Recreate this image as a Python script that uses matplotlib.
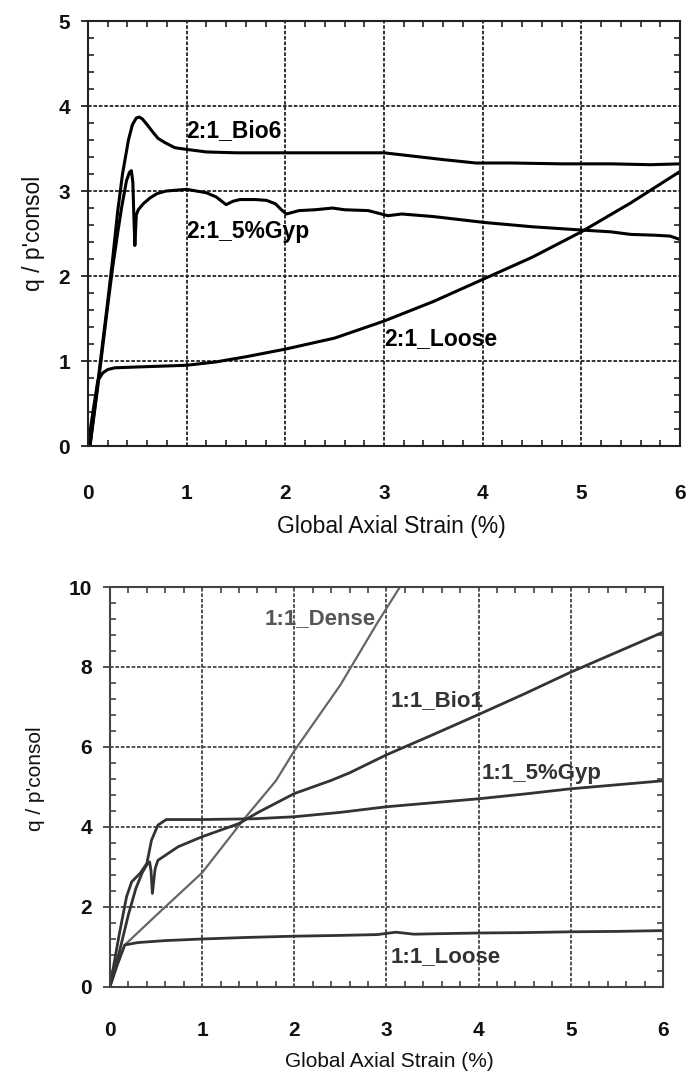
import numpy as np
import matplotlib.pyplot as plt
from matplotlib.ticker import MultipleLocator

plt.rcParams['font.family'] = ['Liberation Sans', 'DejaVu Sans']

# ---- 2:1 mixes (upper panel) ----
bio6_x = [0, 0.02, 0.1, 0.2, 0.25, 0.3, 0.35, 0.41, 0.45, 0.49, 0.52, 0.55, 0.6, 0.66, 0.71, 0.78, 0.88,
          1.0, 1.2, 1.5, 2.0, 2.5, 3.0, 3.3, 3.6, 3.93, 4.3, 4.8, 5.3, 5.7, 6.0]
bio6_y = [0, 0.0, 0.75, 1.7, 2.2, 2.75, 3.2, 3.6, 3.78, 3.86, 3.87, 3.85, 3.78, 3.69, 3.62, 3.57, 3.51,
          3.49, 3.46, 3.45, 3.45, 3.45, 3.45, 3.41, 3.37, 3.33, 3.33, 3.32, 3.32, 3.31, 3.32]

gyp2_x = [0, 0.02, 0.1, 0.2, 0.25, 0.3, 0.34, 0.39, 0.42, 0.44, 0.455, 0.465, 0.475, 0.49, 0.51,
          0.56, 0.63, 0.7, 0.79, 1.0, 1.2, 1.3, 1.4, 1.47, 1.54, 1.7, 1.81, 1.9, 1.96, 2.01, 2.14,
          2.3, 2.48, 2.6, 2.84, 3.04, 3.18, 3.5, 4.02, 4.5, 5.02, 5.3, 5.5, 5.75, 5.9, 6.0]
gyp2_y = [0, 0.0, 0.7, 1.65, 2.1, 2.5, 2.8, 3.12, 3.22, 3.24, 3.1, 2.7, 2.36, 2.72, 2.78,
          2.85, 2.92, 2.97, 3.0, 3.02, 2.98, 2.93, 2.84, 2.88, 2.9, 2.9, 2.89, 2.85, 2.78, 2.73, 2.77,
          2.78, 2.8, 2.78, 2.77, 2.71, 2.73, 2.7, 2.63, 2.58, 2.54, 2.52, 2.49, 2.48, 2.47, 2.43]

loose2_x = [0, 0.05, 0.1, 0.15, 0.2, 0.27, 0.5, 1.0, 1.3, 1.6, 2.0, 2.5, 3.0, 3.5, 4.0, 4.5, 5.0, 5.5, 6.0]
loose2_y = [0, 0.4, 0.77, 0.86, 0.9, 0.92, 0.93, 0.95, 0.99, 1.05, 1.14, 1.27, 1.47, 1.7, 1.96, 2.22, 2.52, 2.86, 3.23]

# ---- 1:1 mixes (lower panel) ----
dense_x = [0, 0.08, 0.16, 0.5, 1.0, 1.45, 1.8, 2.0, 2.5, 2.9, 3.2]
dense_y = [0, 0.55, 1.04, 1.78, 2.85, 4.18, 5.15, 5.9, 7.55, 9.1, 10.2]

bio1_x = [0, 0.1, 0.2, 0.28, 0.35, 0.4, 0.43, 0.445, 0.46, 0.49, 0.52, 0.74, 1.0, 1.4, 1.6,
          2.0, 2.4, 2.6, 3.0, 3.5, 4.0, 4.5, 5.0, 5.5, 6.0]
bio1_y = [0, 0.85, 1.8, 2.45, 2.85, 3.05, 3.12, 2.9, 2.33, 2.95, 3.16, 3.5, 3.75, 4.08, 4.35,
          4.83, 5.16, 5.35, 5.8, 6.3, 6.81, 7.33, 7.87, 8.37, 8.87]

gyp1_x = [0, 0.1, 0.18, 0.235, 0.325, 0.4, 0.45, 0.52, 0.61, 1.0, 1.57, 2.0, 2.5, 3.0, 3.5,
          4.0, 4.5, 5.0, 5.5, 6.0]
gyp1_y = [0, 1.3, 2.25, 2.62, 2.83, 3.08, 3.66, 4.04, 4.18, 4.18, 4.2, 4.25, 4.36, 4.5, 4.6,
          4.7, 4.82, 4.95, 5.05, 5.15]

loose1_x = [0, 0.08, 0.16, 0.3, 0.6, 1.0, 1.5, 2.0, 2.5, 2.9, 3.1, 3.3, 3.5, 4.0, 4.5, 5.0, 5.5, 6.0]
loose1_y = [0, 0.55, 1.04, 1.1, 1.15, 1.19, 1.23, 1.26, 1.28, 1.3, 1.36, 1.31, 1.32, 1.34, 1.35, 1.37, 1.38, 1.4]

fig = plt.figure(figsize=(6.9, 10.75), dpi=100)


def style(ax, ymax, ymin_step, col, lab_size, xpad, ylab_x, ylab_y, xlab_x):
    ax.set_xlim(0, 6)
    ax.set_ylim(0, ymax)
    ax.xaxis.set_major_locator(MultipleLocator(1))
    ax.xaxis.set_minor_locator(MultipleLocator(0.2))
    ax.yaxis.set_major_locator(MultipleLocator(ymax / 5))
    ax.yaxis.set_minor_locator(MultipleLocator(ymin_step))
    ax.tick_params(which='both', direction='in', top=True, right=True, color=col)
    ax.tick_params(which='major', labelsize=15, labelcolor='#111')
    ax.tick_params(axis='x', which='major', length=0, pad=xpad)
    ax.tick_params(axis='y', which='major', direction='out', length=5, width=1.3,
                   right=False, pad=8)
    ax.tick_params(which='minor', length=4, width=1.2)
    for lb in ax.get_xticklabels() + ax.get_yticklabels():
        lb.set_fontweight('bold')
    ax.grid(True, which='major', color=col, ls=(0, (2, 1)), lw=1.3)
    for s in ax.spines.values():
        s.set_color(col)
        s.set_linewidth(1.5)
    ax.set_xlabel('Global Axial Strain (%)', fontsize=lab_size, color='#111')
    ax.set_ylabel("q / p'consol", fontsize=lab_size, color='#111')
    ax.xaxis.set_label_coords(xlab_x, -0.163)
    ax.yaxis.set_label_coords(ylab_x, ylab_y)


ax1 = fig.add_axes([0.1275, 0.5851, 0.858, 0.3953])
ax1.plot(bio6_x, bio6_y, color='k', lw=2.2)
ax1.plot(gyp2_x, gyp2_y, color='k', lw=2.2)
ax1.plot(loose2_x, loose2_y, color='k', lw=2.2)
style(ax1, 5, 0.2, '#222', 16.5, 27, -0.073, 0.5, 0.512)
ax1.text(1.0, 3.71, '2:1_Bio6', fontsize=16.5, fontweight='bold', va='center')
ax1.text(1.0, 2.52, '2:1_5%Gyp', fontsize=16.5, fontweight='bold', va='center')
ax1.text(3.0, 1.27, '2:1_Loose', fontsize=16.5, fontweight='bold', va='center')

ax2 = fig.add_axes([0.1594, 0.0823, 0.8014, 0.3716])
ax2.plot(dense_x, dense_y, color='#666', lw=1.6)
ax2.plot(bio1_x, bio1_y, color='#333', lw=2.0)
ax2.plot(gyp1_x, gyp1_y, color='#333', lw=2.0)
ax2.plot(loose1_x, loose1_y, color='#333', lw=2.0)
style(ax2, 10, 0.4, '#444', 15, 25, -0.118, 0.52, 0.506)
ax2.text(1.68, 9.2, '1:1_Dense', fontsize=16, fontweight='bold', va='center', color='#555')
ax2.text(3.04, 7.16, '1:1_Bio1', fontsize=16, fontweight='bold', va='center', color='#333')
ax2.text(4.03, 5.33, '1:1_5%Gyp', fontsize=16, fontweight='bold', va='center', color='#333')
ax2.text(3.05, 0.76, '1:1_Loose', fontsize=16, fontweight='bold', va='center', color='#333')

fig.savefig('out.png', dpi=100)
